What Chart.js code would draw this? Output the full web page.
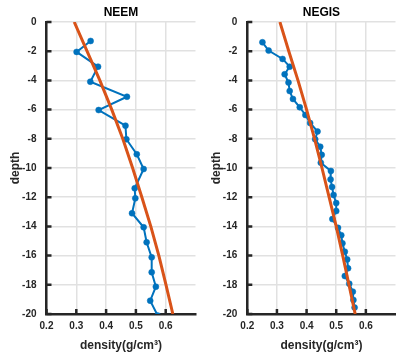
<!DOCTYPE html>
<html>
<head>
<meta charset="utf-8">
<script src="https://cdn.jsdelivr.net/npm/chart.js@4.4.0/dist/chart.umd.min.js"></script>
<style>
    html, body { margin: 0; padding: 0; background: #fff; width: 396px; height: 357px; overflow: hidden; position: relative; }
    canvas { position: absolute; top: 0; }
    #neemChart { left: 0; }
    #negisChart { left: 200px; }
</style>
</head>
<body>
<canvas id="neemChart" width="200" height="357"></canvas>
<canvas id="negisChart" width="200" height="357"></canvas>
<script>
// measured profiles (depth in m, density in g/cm3)
const neemDepth = [-1.3, -2.05, -3.06, -4.09, -5.12, -6.03, -7.1, -8.03, -9.06, -10.07, -11.39, -12.08, -13.1, -14.06, -15.09, -16.12, -17.14, -18.13, -19.09, -20.1];
const neemDensity = [0.348, 0.301, 0.373, 0.347, 0.470, 0.375, 0.465, 0.468, 0.503, 0.526, 0.496, 0.498, 0.487, 0.526, 0.536, 0.553, 0.553, 0.567, 0.548, 0.573];

const negisDepth = [-1.39, -1.96, -2.53, -3.06, -3.58, -4.15, -4.73, -5.27, -5.84, -6.37, -6.92, -7.5, -8.03, -8.54, -9.1, -9.64, -10.2, -10.78, -11.3, -11.85, -12.4, -12.95, -13.5, -14.1, -14.6, -15.16, -15.73, -16.26, -16.87, -17.4, -17.92, -18.47, -19.04, -19.56];
const negisDensity = [0.251, 0.272, 0.319, 0.343, 0.326, 0.339, 0.343, 0.354, 0.377, 0.396, 0.412, 0.437, 0.429, 0.446, 0.451, 0.448, 0.482, 0.481, 0.486, 0.491, 0.500, 0.500, 0.487, 0.506, 0.517, 0.521, 0.529, 0.537, 0.540, 0.529, 0.544, 0.556, 0.558, 0.562];

// fitted curves
const fitDepth = [0, -2, -4, -6, -8, -10, -12, -14, -16, -18, -20];
const neemFit = [0.293, 0.336, 0.379, 0.419, 0.456, 0.489, 0.520, 0.550, 0.577, 0.601, 0.624];
const negisFit = [0.310, 0.340, 0.371, 0.400, 0.427, 0.452, 0.476, 0.500, 0.522, 0.543, 0.564];

const densityTicks = [0.2, 0.3, 0.4, 0.5, 0.6];
const depthTicks = [0, -2, -4, -6, -8, -10, -12, -14, -16, -18, -20];

const FONT = '"Liberation Sans", Arial, sans-serif';
const AXIS_COLOR = '#262626';

const toPoints = (xs, ys) => xs.map((v, i) => ({ x: v, y: ys[i] }));

// title over the plot area + inward tick marks
const axisDecor = {
    id: 'axisDecor',
    afterDraw(chart, args, opts) {
        const { ctx, chartArea: a, scales: { x, y } } = chart;
        ctx.save();
        ctx.strokeStyle = AXIS_COLOR;
        ctx.lineWidth = 2.5;
        ctx.beginPath();
        densityTicks.forEach(v => {
            const px = x.getPixelForValue(v);
            ctx.moveTo(px, a.bottom);
            ctx.lineTo(px, a.bottom - 5);
        });
        depthTicks.forEach(v => {
            const py = y.getPixelForValue(v);
            ctx.moveTo(a.left, py);
            ctx.lineTo(a.left + 5, py);
        });
        ctx.stroke();
        ctx.fillStyle = '#000';
        ctx.font = 'bold 12px ' + FONT;
        ctx.textAlign = 'center';
        ctx.textBaseline = 'middle';
        ctx.fillText(opts.text, (a.left + a.right) / 2, 12.5);
        ctx.restore();
    }
};

function makeChart(id, title, depth, density, fit, yWidth, rightPad, depthPad) {
    const ctx = document.getElementById(id).getContext('2d');
    return new Chart(ctx, {
        type: 'scatter',
        data: {
            datasets: [
                {
                    label: 'fit',
                    data: toPoints(fit, fitDepth),
                    showLine: true,
                    borderColor: '#D95319',
                    borderWidth: 3,
                    pointRadius: 0,
                    clip: 0
                },
                {
                    label: 'measured',
                    data: toPoints(density, depth),
                    showLine: true,
                    borderColor: '#0072BD',
                    borderWidth: 2,
                    pointRadius: 3,
                    pointBackgroundColor: '#0072BD',
                    pointBorderColor: '#0072BD',
                    pointBorderWidth: 0.5,
                    clip: 0
                }
            ]
        },
        options: {
            responsive: false,
            devicePixelRatio: 1,
            animation: false,
            layout: { padding: { left: 0, top: 22, right: rightPad, bottom: 0 } },
            plugins: {
                legend: { display: false },
                tooltip: { enabled: false },
                axisDecor: { text: title }
            },
            scales: {
                x: {
                    type: 'linear',
                    min: 0.2,
                    max: 0.7,
                    afterBuildTicks: s => { s.ticks = densityTicks.map(v => ({ value: v })); },
                    afterFit: s => { s.height = 43; },
                    ticks: {
                        color: AXIS_COLOR,
                        font: { family: FONT, size: 10, weight: 'bold' },
                        padding: 6,
                        maxRotation: 0,
                        autoSkip: false,
                        callback: v => v.toFixed(1)
                    },
                    grid: { color: '#e1e1e1', lineWidth: 1.5, drawTicks: false },
                    border: { color: AXIS_COLOR, width: 2.5 },
                    title: {
                        display: true,
                        text: 'density(g/cm³)',
                        color: AXIS_COLOR,
                        font: { family: FONT, size: 12, weight: 'bold' },
                        padding: { top: 0, bottom: 4 }
                    }
                },
                y: {
                    type: 'linear',
                    min: -20,
                    max: 0,
                    afterBuildTicks: s => { s.ticks = depthTicks.map(v => ({ value: v })); },
                    afterFit: s => { s.width = yWidth; },
                    ticks: {
                        color: AXIS_COLOR,
                        font: { family: FONT, size: 10, weight: 'bold' },
                        padding: 10,
                        autoSkip: false,
                        callback: v => String(v)
                    },
                    grid: { color: '#e1e1e1', lineWidth: 1.5, drawTicks: false },
                    border: { color: AXIS_COLOR, width: 2.5 },
                    title: {
                        display: true,
                        text: 'depth',
                        color: AXIS_COLOR,
                        font: { family: FONT, size: 12, weight: 'bold' },
                        padding: { top: depthPad, bottom: 0 }
                    }
                }
            }
        },
        plugins: [axisDecor]
    });
}

makeChart('neemChart', 'NEEM', neemDepth, neemDensity, neemFit, 46.5, 1, 8.4);
makeChart('negisChart', 'NEGIS', negisDepth, negisDensity, negisFit, 47.3, 1.5, 9.4);
</script>
</body>
</html>
